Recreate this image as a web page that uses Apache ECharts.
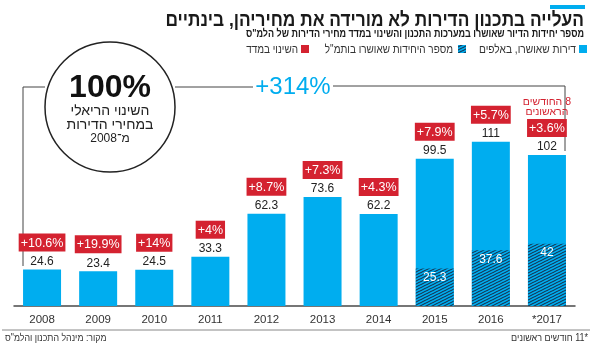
<!DOCTYPE html>
<html>
<head>
<meta charset="utf-8">
<script src="https://cdn.jsdelivr.net/npm/echarts@6/dist/echarts.min.js"></script>
<style>
  html, body { margin: 0; padding: 0; background: #fff; }
  #chart { width: 590px; height: 345px; }
</style>
</head>
<body>
<div id="chart"></div>
<script>
// Housing units approved by the planning system (thousands) and yearly change in the CBS housing price index
const years = ['2008', '2009', '2010', '2011', '2012', '2013', '2014', '2015', '2016', '*2017'];
const approvedUnits = [24.6, 23.4, 24.5, 33.3, 62.3, 73.6, 62.2, 99.5, 111, 102];
const vatmalUnits = [null, null, null, null, null, null, null, 25.3, 37.6, 42];
const priceIndexChange = ['+10.6%', '+19.9%', '+14%', '+4%', '+8.7%', '+7.3%', '+4.3%', '+7.9%', '+5.7%', '+3.6%'];
const partialYearNote = ['8 החודשים', 'הראשונים'];

const BLUE = '#00adef';
const RED = '#d42230';
const NAVY = '#16324f';
const FONT = 'Liberation Sans, DejaVu Sans, sans-serif';

// right-to-left embedding for Hebrew strings that carry digits
const rtl = function (s) { return '\u202B' + s + '\u202C'; };

// diagonal hatch tile for the VATMAL portion of the bars
function hatchCanvas(bg) {
  const c = document.createElement('canvas');
  c.width = 6; c.height = 3;
  const ctx = c.getContext('2d');
  ctx.fillStyle = bg;
  ctx.fillRect(0, 0, 6, 3);
  ctx.strokeStyle = NAVY;
  ctx.lineWidth = 1.1;
  [0, 3, 6].forEach(function (k) {
    ctx.beginPath();
    ctx.moveTo(-1, k + 0.5);
    ctx.lineTo(7, k - 3.5);
    ctx.stroke();
  });
  return c;
}
const hatch = { image: hatchCanvas(BLUE), repeat: 'repeat' };

const chart = echarts.init(document.getElementById('chart'), null, { renderer: 'canvas' });

function rightText(x, y, text, font, fill, sx) {
  return {
    type: 'text', x: x, y: y, scaleX: sx || 1,
    style: { text: text, font: font, fill: fill, align: 'right', verticalAlign: 'middle' }
  };
}

const option = {
  animation: false,
  grid: { left: 14, right: 15, top: 84, bottom: 39 },
  xAxis: {
    type: 'category',
    data: years,
    axisLine: { lineStyle: { color: '#4a4a4a', width: 1.5 } },
    axisTick: { show: false },
    axisLabel: { color: '#333', fontSize: 11.5, fontFamily: FONT, margin: 8 }
  },
  yAxis: { type: 'value', min: 0, max: 150, show: false, splitLine: { show: false } },
  series: [
    {
      type: 'bar',
      data: approvedUnits,
      barWidth: 38,
      barGap: '-100%',
      itemStyle: { color: BLUE },
      label: {
        show: true,
        position: 'top',
        distance: 0,
        fontFamily: FONT,
        formatter: function (p) {
          let s = '';
          if (p.dataIndex === years.length - 1) {
            s += partialYearNote.map(function (t) { return '{n|' + rtl(t) + '}'; }).join('\n') + '\n';
          }
          return s + '{b|' + priceIndexChange[p.dataIndex] + '}\n{v|' + p.value + '}';
        },
        rich: {
          n: { color: RED, fontSize: 10.5, lineHeight: 10, fontFamily: FONT, align: 'center' },
          b: { color: '#fff', backgroundColor: RED, fontSize: 12.5, padding: [3, 2, 2, 2], lineHeight: 22, fontFamily: FONT, align: 'center' },
          v: { color: '#222', fontSize: 12, lineHeight: 16, fontFamily: FONT, align: 'center' }
        }
      }
    },
    {
      type: 'bar',
      data: vatmalUnits,
      barWidth: 38,
      itemStyle: { color: hatch },
      label: {
        show: true,
        position: 'insideTop',
        distance: 3,
        color: '#fff',
        fontSize: 12,
        fontFamily: FONT
      }
    }
  ],
  graphic: [
    // accent strip and headings
    { type: 'rect', shape: { x: 550, y: 5, width: 35, height: 4 }, style: { fill: BLUE } },
    rightText(584, 20, 'העלייה בתכנון הדירות לא מורידה את מחיריהן, בינתיים', 'bold 20px ' + FONT, '#1a1a1a', 0.865),
    rightText(584, 34, 'מספר יחידות הדיור שאושרו במערכות התכנון והשינוי במדד מחירי הדירות של הלמ"ס', 'bold 11px ' + FONT, '#1a1a1a', 0.82),

    // legend
    { type: 'rect', shape: { x: 579, y: 45, width: 8, height: 8 }, style: { fill: BLUE } },
    rightText(576, 49.5, 'דירות שאושרו, באלפים', '12px ' + FONT, '#333', 0.85),
    { type: 'rect', shape: { x: 458, y: 45, width: 8, height: 8 }, style: { fill: hatch } },
    rightText(453, 49.5, 'מספר היחידות שאושרו בותמ"ל', '12px ' + FONT, '#333', 0.83),
    { type: 'rect', shape: { x: 301, y: 45, width: 8, height: 8 }, style: { fill: RED } },
    rightText(298, 49.5, 'השינוי במדד', '12px ' + FONT, '#333', 0.83),

    // connector from the circle to the first and last bars
    { type: 'polyline', shape: { points: [[45, 87], [23, 87], [23, 266]] }, style: { stroke: '#444', lineWidth: 1, fill: null } },
    { type: 'line', shape: { x1: 175, y1: 87, x2: 253, y2: 87 }, style: { stroke: '#444', lineWidth: 1 } },
    { type: 'polyline', shape: { points: [[333, 86], [565, 86], [565, 151]] }, style: { stroke: '#444', lineWidth: 1, fill: null } },
    { type: 'text', x: 293, y: 87, style: { text: '+314%', font: '24px ' + FONT, fill: BLUE, align: 'center', verticalAlign: 'middle' } },

    // real price change circle
    { type: 'circle', shape: { cx: 110, cy: 107, r: 65 }, style: { stroke: '#222', lineWidth: 1.5, fill: '#fff' } },
    { type: 'text', x: 110, y: 88, style: { text: '100%', font: 'bold 32px ' + FONT, fill: '#111', align: 'center', verticalAlign: 'middle' } },
    { type: 'text', x: 110, y: 111, style: { text: 'השינוי הריאלי', font: '14px ' + FONT, fill: '#222', align: 'center', verticalAlign: 'middle' } },
    { type: 'text', x: 110, y: 125, style: { text: 'במחירי הדירות', font: '14px ' + FONT, fill: '#222', align: 'center', verticalAlign: 'middle' } },
    { type: 'text', x: 110, y: 139, style: { text: 'מ־2008', font: '12px ' + FONT, fill: '#222', align: 'center', verticalAlign: 'middle' } },

    // footer
    { type: 'line', shape: { x1: 2, y1: 330, x2: 590, y2: 330 }, style: { stroke: '#888', lineWidth: 1 } },
    { type: 'text', x: 5, y: 338, scaleX: 0.88, style: { text: 'מקור: מינהל התכנון והלמ"ס', font: '10px ' + FONT, fill: '#333', align: 'left', verticalAlign: 'middle' } },
    rightText(588, 338, rtl('*11 חודשים ראשונים'), '10px ' + FONT, '#333', 0.9)
  ]
};

chart.setOption(option);
</script>
</body>
</html>
